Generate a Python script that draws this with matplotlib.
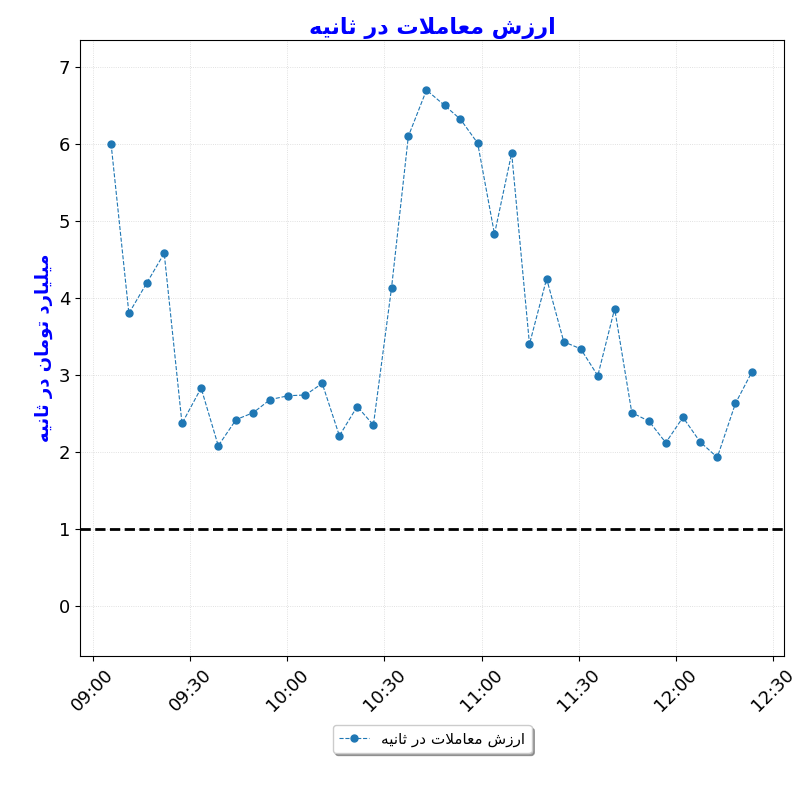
import matplotlib
matplotlib.use("Agg")
import matplotlib.pyplot as plt
import matplotlib.dates as mdates
import datetime as dt

FORMS = {  # isolated, final, initial, medial
    'ا': (0xFE8D, 0xFE8E, None, None), 'ر': (0xFEAD, 0xFEAE, None, None),
    'ز': (0xFEAF, 0xFEB0, None, None), 'د': (0xFEA9, 0xFEAA, None, None),
    'و': (0xFEED, 0xFEEE, None, None), 'ش': (0xFEB5, 0xFEB6, 0xFEB7, 0xFEB8),
    'م': (0xFEE1, 0xFEE2, 0xFEE3, 0xFEE4), 'ع': (0xFEC9, 0xFECA, 0xFECB, 0xFECC),
    'ل': (0xFEDD, 0xFEDE, 0xFEDF, 0xFEE0), 'ت': (0xFE95, 0xFE96, 0xFE97, 0xFE98),
    'ث': (0xFE99, 0xFE9A, 0xFE9B, 0xFE9C), 'ن': (0xFEE5, 0xFEE6, 0xFEE7, 0xFEE8),
    'ی': (0xFBFC, 0xFBFD, 0xFBFE, 0xFBFF), 'ه': (0xFEE9, 0xFEEA, 0xFEEB, 0xFEEC),
}

def shape(text):
    out_words = []
    for w in text.split(' '):
        res = []
        i = 0
        n = len(w)
        prev_joins = False
        while i < n:
            c = w[i]
            if c == 'ل' and i + 1 < n and w[i + 1] == 'ا':
                res.append(chr(0xFEFC if prev_joins else 0xFEFB))
                prev_joins = False
                i += 2
                continue
            f = FORMS[c]
            can_next = f[2] is not None and i + 1 < n
            if prev_joins and can_next:
                g = f[3]
            elif prev_joins:
                g = f[1]
            elif can_next:
                g = f[2]
            else:
                g = f[0]
            res.append(chr(g))
            prev_joins = can_next
            i += 1
        out_words.append(''.join(res)[::-1])
    return ' '.join(out_words[::-1])

title = 'ارزش معاملات در ثانیه'
ylabel = 'میلیارد تومان در ثانیه'
legend_label = 'ارزش معاملات در ثانیه'

minutes = [5.6, 11.1, 16.7, 22.0, 27.5, 33.4, 38.7, 44.2, 49.5, 54.7, 60.3, 65.6, 70.8,
           76.1, 81.6, 86.6, 92.2, 97.4, 103.0, 108.6, 113.5, 118.8, 124.0, 129.3, 134.8,
           140.1, 145.4, 150.6, 155.9, 161.1, 166.4, 171.7, 176.9, 182.2, 187.5, 192.8,
           198.4, 203.5]
values = [6.0, 3.8, 4.2, 4.58, 2.37, 2.83, 2.08, 2.42, 2.51, 2.68, 2.73, 2.74, 2.89,
          2.21, 2.59, 2.35, 4.13, 6.1, 6.7, 6.5, 6.32, 6.01, 4.83, 5.88, 3.4, 4.25,
          3.43, 3.34, 2.99, 3.86, 2.51, 2.40, 2.12, 2.45, 2.13, 1.93, 2.63, 3.04]
threshold = 1

base = dt.datetime(2024, 1, 1, 9, 0)
times = [base + dt.timedelta(minutes=m) for m in minutes]

plt.rcParams['font.family'] = ['DejaVu Sans']
fig = plt.figure(figsize=(8, 8), dpi=100)
ax = fig.add_axes([0.1, 0.18, 0.88, 0.77])
ax.plot(times, values, '--o', color='#1f77b4', lw=0.8, ms=5, label=shape(legend_label))
ax.axhline(threshold, color='black', ls='--', lw=2)
ax.set_ylim(-0.65, 7.35)
ax.set_xlim(base - dt.timedelta(minutes=4), base + dt.timedelta(minutes=213.4))
ax.xaxis.set_major_locator(mdates.MinuteLocator(byminute=[0, 30]))
ax.xaxis.set_major_formatter(mdates.DateFormatter('%H:%M'))
ax.grid(True, ls=':', lw=0.6, alpha=0.5)
ax.tick_params(labelsize=13)
plt.setp(ax.get_xticklabels(), rotation=45)
ax.set_title(shape(title), color='blue', fontsize=16, fontweight='bold', pad=4)
ax.set_ylabel(shape(ylabel), color='blue', fontsize=13, fontweight='bold')
ax.legend(loc='upper center', bbox_to_anchor=(0.5, -0.1), shadow=True, fontsize=11)
fig.savefig('out.png')
